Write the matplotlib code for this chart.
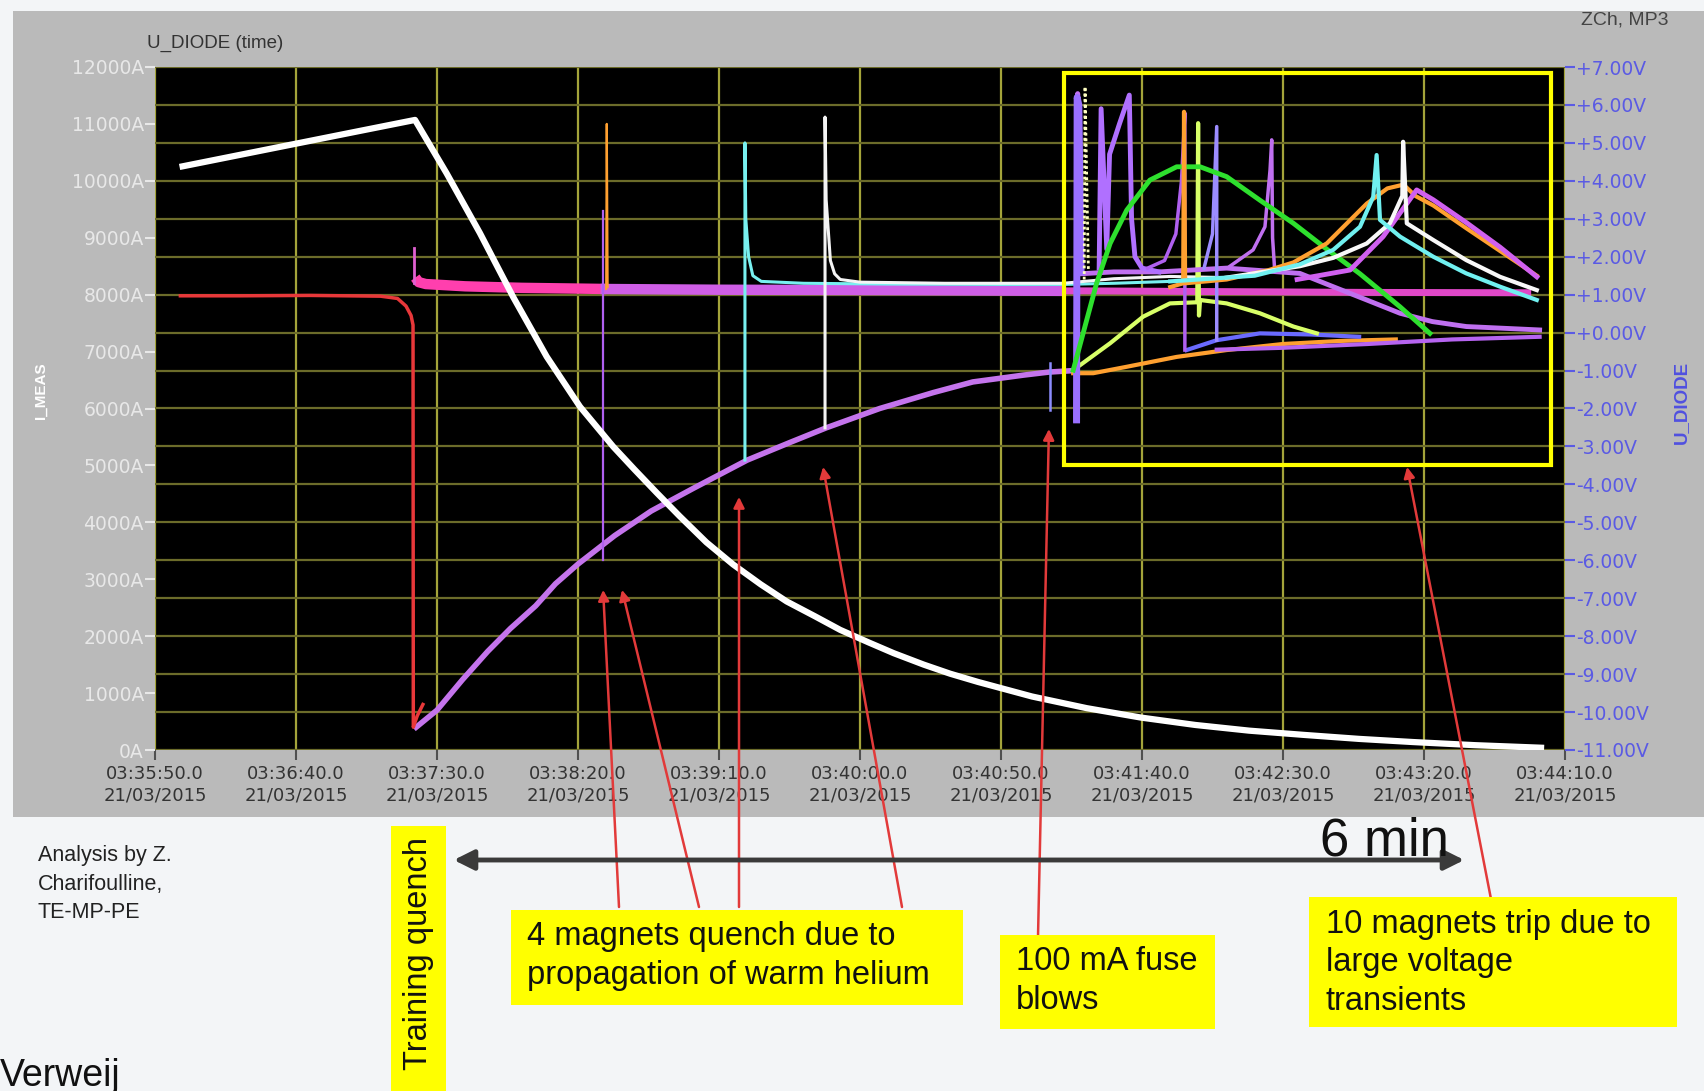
import matplotlib
matplotlib.use('Agg')
import matplotlib.pyplot as plt
from matplotlib.patches import Rectangle, FancyArrowPatch

W, H = 1704, 1091

# time axis: seconds after 03:35:50.0 (21/03/2015)
x_ticks = [0, 50, 100, 150, 200, 250, 300, 350, 400, 450, 500]
x_labels = ['03:35:50.0\n21/03/2015', '03:36:40.0\n21/03/2015', '03:37:30.0\n21/03/2015',
            '03:38:20.0\n21/03/2015', '03:39:10.0\n21/03/2015', '03:40:00.0\n21/03/2015',
            '03:40:50.0\n21/03/2015', '03:41:40.0\n21/03/2015', '03:42:30.0\n21/03/2015',
            '03:43:20.0\n21/03/2015', '03:44:10.0\n21/03/2015']
i_ticks = [0, 1000, 2000, 3000, 4000, 5000, 6000, 7000, 8000, 9000, 10000, 11000, 12000]
i_labels = ['0A', '1000A', '2000A', '3000A', '4000A', '5000A', '6000A', '7000A',
            '8000A', '9000A', '10000A', '11000A', '12000A']
u_ticks = [-11, -10, -9, -8, -7, -6, -5, -4, -3, -2, -1, 0, 1, 2, 3, 4, 5, 6, 7]
u_labels = ['-11.00V', '-10.00V', '-9.00V', '-8.00V', '-7.00V', '-6.00V', '-5.00V',
            '-4.00V', '-3.00V', '-2.00V', '-1.00V', '+0.00V', '+1.00V', '+2.00V',
            '+3.00V', '+4.00V', '+5.00V', '+6.00V', '+7.00V']

# I_MEAS (A)
imeas_t = [9.8, 30, 50, 70, 92.2, 103.4, 115.2, 127, 138.9, 150.7, 162.5, 170, 177.9,
           186, 195.5, 205, 214.8, 224, 234, 243, 253.3, 262, 272.6, 282, 291.9, 311,
           330.4, 349.6, 368.9, 388, 407.5, 427, 446, 468, 491.5]
imeas_a = [10255, 10455, 10653, 10851, 11070, 10133, 9084, 7960, 6911, 6032, 5329, 4930,
           4520, 4110, 3650, 3260, 2910, 2610, 2350, 2110, 1885, 1700, 1500, 1340, 1195,
           940, 735, 570, 440, 340, 265, 195, 140, 85, 40]

# U_DIODE traces (V)
red_t = [9, 30, 55, 80, 86, 89, 90.8, 91.5, 91.6, 91.8, 93, 95]
red_v = [0.97, 0.97, 0.98, 0.96, 0.9, 0.7, 0.45, 0.2, -10.4, -10.35, -10.1, -9.8]

pspike_t = [91.7, 91.7]
pspike_v = [1.3, 2.23]
pink_t = [92.3, 93.5, 96, 110, 130, 160]
pink_v = [1.45, 1.33, 1.28, 1.22, 1.18, 1.15]
band_t = [158, 200, 260, 322]
band_v = [1.15, 1.13, 1.12, 1.1]
bandbox_t = [322, 330, 380, 430, 488]
bandbox_v = [1.1, 1.1, 1.08, 1.06, 1.05]

rise_t = [92.6, 100, 109, 118, 126, 135, 142, 150, 163, 176, 191, 210, 225, 238, 257,
          276, 290, 300, 308, 317, 326]
rise_v = [-10.4, -9.95, -9.15, -8.4, -7.8, -7.2, -6.62, -6.1, -5.35, -4.7, -4.1, -3.36,
          -2.9, -2.51, -2.0, -1.58, -1.3, -1.2, -1.12, -1.04, -1.0]

q1_t = [158.7, 158.7]
q1_v = [-6.0, 3.2]
q2_t = [160.0, 160.2, 160.5]
q2_v = [1.15, 5.5, 1.2]
q3_t = [209.2, 209.2, 209.5, 210.5, 212, 215, 230, 260, 300, 322, 340, 360]
q3_v = [-3.36, 5.0, 3.0, 2.0, 1.5, 1.35, 1.3, 1.28, 1.27, 1.27, 1.3, 1.35]
q4_t = [237.6, 237.6, 238, 239.5, 241, 243, 250, 280, 322, 340, 360, 380]
q4_v = [-2.51, 5.68, 3.5, 1.9, 1.55, 1.4, 1.33, 1.3, 1.3, 1.42, 1.48, 1.45]
fuse_t = [317.4, 317.4]
fuse_v = [-0.8, -2.04]

green_t = [325.6, 333.9, 338.7, 344.6, 352.8, 362.3, 370.6, 380, 391.8, 403.7, 415.5,
           427.3, 441.5, 452.1]
green_v = [-0.99, 1.30, 2.35, 3.23, 4.02, 4.37, 4.37, 4.11, 3.49, 2.88, 2.2, 1.55, 0.68,
           -0.02]
lime_t = [325.6, 338.7, 350.4, 359.9, 369.6, 369.9, 370.2, 370.6, 380, 391.8, 403.7, 412]
lime_v = [-0.99, -0.28, 0.42, 0.77, 0.8, 5.52, 0.45, 0.86, 0.77, 0.51, 0.16, -0.02]
orlow_t = [325.6, 332.7, 344.6, 362.3, 380, 400, 420, 440]
orlow_v = [-1.07, -1.07, -0.9, -0.64, -0.46, -0.3, -0.22, -0.18]
orup_t = [360, 364.6, 364.9, 365.3, 380, 395, 403.7, 415.5, 429.7, 437, 442.7, 447,
          453.3, 465, 477, 490]
orup_v = [1.2, 1.3, 5.82, 1.3, 1.4, 1.65, 1.85, 2.35, 3.4, 3.8, 3.9, 3.6, 3.35, 2.75,
          2.15, 1.5]
vpeak_t = [405, 423.8, 435.5, 444, 447.4, 453.3, 465, 477, 490]
vpeak_v = [1.4, 1.65, 2.53, 3.41, 3.76, 3.5, 2.9, 2.25, 1.47]
wup_t = [380, 406, 417.8, 429.7, 437.9, 442.3, 442.6, 443.9, 453.3, 465, 477, 490]
wup_v = [1.45, 1.75, 1.97, 2.35, 2.88, 3.6, 5.03, 2.88, 2.44, 1.91, 1.47, 1.12]
cup_t = [360, 390, 406, 417.8, 427.3, 432, 433.2, 434.4, 441.5, 453.3, 465, 477, 490]
cup_v = [1.35, 1.5, 1.8, 2.18, 2.79, 3.58, 4.68, 2.97, 2.53, 2.0, 1.56, 1.21, 0.86]
vbase_t = [326.5, 327.2, 328, 340, 356, 380, 406, 417.8, 429.7, 441.5, 453, 465, 491]
vbase_v = [-2.3, 6.3, 1.55, 1.6, 1.6, 1.7, 1.56, 1.21, 0.86, 0.51, 0.29, 0.16, 0.07]
vclus_t = [326.8, 327.0, 327.6, 328.4]
vclus_v = [-2.3, 6.2, 6.0, 1.6]
blue_t = [365.8, 376.5, 391.8, 410, 427]
blue_v = [-0.46, -0.2, -0.02, -0.05, -0.11]
purp_t = [376.5, 400, 430, 460, 491]
purp_v = [-0.45, -0.4, -0.3, -0.18, -0.11]
s1_t = [329.5, 329.8, 331]
s1_v = [1.4, 6.48, 1.6]
hump_t = [334.8, 335.5, 337.5, 338.5, 342, 345.5, 346.3, 347.5, 350, 356]
hump_v = [1.7, 5.9, 2.2, 4.7, 5.5, 6.26, 3.0, 2.0, 1.7, 1.6]
s2_t = [352, 358, 362, 364, 365.2, 365.2]
s2_v = [1.7, 1.9, 2.6, 4.0, 5.79, -0.46]
s3_t = [372, 375, 376.5, 376.5]
s3_v = [1.7, 2.6, 5.43, -0.2]
s4_t = [381, 389.4, 393.6, 395.4, 396, 396.3, 397]
s4_v = [1.74, 2.18, 2.79, 4.28, 5.08, 2.5, 1.7]

plt.rcParams['font.family'] = ['Liberation Sans', 'DejaVu Sans']


def fx(px):
    return px / W


def fy(py):
    return 1 - py / H


fig = plt.figure(figsize=(W / 100, H / 100), dpi=100, facecolor='#f3f5f7')
fig.add_artist(Rectangle((fx(13), fy(817)), 1 - fx(13), (817 - 11) / H,
                         transform=fig.transFigure, fc='#bababa', ec='none', zorder=-5))

ax = fig.add_axes([fx(155), fy(750), (1565 - 155) / W, (750 - 67) / H])
ax.set_facecolor('black')
ax2 = ax.twinx()

ax.set_xlim(0, 500)
ax.set_ylim(0, 12000)
ax2.set_ylim(-11, 7)
ax.set_xticks(x_ticks)
ax.set_xticklabels(x_labels, linespacing=1.2)
ax.set_yticks(i_ticks)
ax.set_yticklabels(i_labels)
ax2.set_yticks(u_ticks)
ax2.set_yticklabels(u_labels)
for lab in ax.get_xticklabels() + ax.get_yticklabels() + ax2.get_yticklabels():
    lab.set_fontfamily('DejaVu Sans')

for a in (ax, ax2):
    for s in a.spines.values():
        s.set_visible(False)
ax.grid(axis='x', color='#a4a43a', lw=1.6)
ax2.grid(axis='y', color='#6c6c2a', lw=1.6)
ax.tick_params(axis='y', colors='#e8e8e8', labelsize=13.5, length=7, width=1.5, pad=1)
ax.tick_params(axis='x', colors='#505050', labelcolor='#333333', labelsize=13,
               length=7, width=1.5, pad=4)
ax2.tick_params(axis='y', colors='#5a5ae4', labelsize=13.5, length=7, width=1.5, pad=1)

# traces
ax2.plot(pink_t, pink_v, color='#ff3fae', lw=7.5, solid_capstyle='butt')
ax2.plot(pspike_t, pspike_v, color='#e060d0', lw=2)
ax2.plot(band_t, band_v, color='#cf5ee6', lw=7.5, solid_capstyle='butt')
ax2.plot(rise_t, rise_v, color='#c474ec', lw=4)
ax2.plot(red_t, red_v, color='#e8383a', lw=2.5)
ax2.plot(q1_t, q1_v, color='#b060f0', lw=1.6)
ax2.plot(q2_t, q2_v, color='#ffa030', lw=1.6)
ax2.plot(q3_t, q3_v, color='#78f0f0', lw=2.2)
ax2.plot(q4_t, q4_v, color='#f4f4f4', lw=2.2)
ax2.plot(fuse_t, fuse_v, color='#8c8cff', lw=1.8)

ax2.plot(bandbox_t, bandbox_v, color='#e048c8', lw=5, solid_capstyle='butt')
ax2.plot(orlow_t, orlow_v, color='#ffa030', lw=3)
ax2.plot(purp_t, purp_v, color='#b664f0', lw=3)
ax2.plot(blue_t, blue_v, color='#6a6aff', lw=3)
ax2.plot(lime_t, lime_v, color='#d8ff68', lw=3)
ax2.plot(vbase_t, vbase_v, color='#c070f0', lw=3.5)
ax2.plot(vclus_t, vclus_v, color='#9a70ff', lw=5)
ax2.plot(s1_t, s1_v, color='#ffffc0', lw=2, ls=(0, (1, 1)))
ax2.plot(hump_t, hump_v, color='#b070ff', lw=3.5)
ax2.plot(s2_t, s2_v, color='#b060f0', lw=2.5)
ax2.plot(s3_t, s3_v, color='#9c8cff', lw=2.5)
ax2.plot(s4_t, s4_v, color='#c070f0', lw=2.5)
ax2.plot(green_t, green_v, color='#2ee02e', lw=3.5)
ax2.plot(orup_t, orup_v, color='#ffa030', lw=3)
ax2.plot(vpeak_t, vpeak_v, color='#d060f0', lw=3.5)
ax2.plot(wup_t, wup_v, color='#f8f8f8', lw=3)
ax2.plot(cup_t, cup_v, color='#70f0f0', lw=3)

# current drawn through the left-axis scale, on top of the voltage traces
ax2.plot(imeas_t, imeas_a, color='white', lw=4.5, transform=ax.transData, zorder=5)
ax2.set_ylim(-11, 7)

ax2.add_patch(Rectangle((322.3, -3.49), 495.0 - 322.3, 6.84 + 3.49, fill=False,
                        ec='#ffff00', lw=3, zorder=6))

# axis captions
fig.text(fx(147), fy(43), 'U_DIODE (time)', fontsize=13.5, color='#333333', va='center')
fig.text(fx(1581), fy(20), 'ZCh, MP3', fontsize=14, color='#444444', va='center')
fig.text(fx(41), fy(391), 'I_MEAS', fontsize=11, color='white', weight='bold',
         rotation=90, ha='center', va='center')
fig.text(fx(1681), fy(402), 'U_DIODE', fontsize=13.5, color='#5050e0', weight='bold',
         rotation=90, ha='center', va='center')

# annotation boxes
boxes = [(391, 826, 446, 1091), (511, 910, 963, 1005), (1000, 935, 1215, 1029),
         (1309, 897, 1677, 1027)]
for x0, y0, x1, y1 in boxes:
    fig.add_artist(Rectangle((fx(x0), fy(y1)), (x1 - x0) / W, (y1 - y0) / H,
                             transform=fig.transFigure, fc='#ffff00', ec='none', zorder=1))

fig.text(fx(419), fy(953), 'Training quench', fontsize=23.5, rotation=90,
         ha='center', va='center', color='#111111', zorder=3)
fig.text(fx(527), fy(956), '4 magnets quench due to\npropagation of warm helium',
         fontsize=23.5, ha='left', va='center', linespacing=1.3, color='#111111', zorder=3)
fig.text(fx(1016), fy(981), '100 mA fuse\nblows', fontsize=23.5, ha='left', va='center',
         linespacing=1.3, color='#111111', zorder=3)
fig.text(fx(1326), fy(963), '10 magnets trip due to\nlarge voltage\ntransients',
         fontsize=23.5, ha='left', va='center', linespacing=1.3, color='#111111', zorder=3)
fig.text(fx(38), fy(845), 'Analysis by Z.\nCharifoulline,\nTE-MP-PE', fontsize=15.5,
         ha='left', va='top', linespacing=1.48, color='#222222')
fig.text(fx(0), fy(1086), 'Verweij', fontsize=27, ha='left', va='baseline',
         color='#111111')
fig.text(fx(1320), fy(856), '6 min', fontsize=38, ha='left', va='baseline',
         color='#111111', zorder=3)

fig.add_artist(FancyArrowPatch((fx(451), fy(860)), (fx(1467), fy(860)),
                               transform=fig.transFigure, arrowstyle='<|-|>',
                               mutation_scale=30, lw=3.5, color='#3a3a3a', zorder=2))

# red pointers: head in data coords, tail in figure pixels
pointers = [((158.9, -6.78), (619, 907)), ((165.6, -6.78), (699, 907)),
            ((207.1, -4.33), (739, 907)), ((236.9, -3.54), (902, 907)),
            ((317.0, -2.54), (1038, 937)), ((444.0, -3.54), (1491, 899))]
for head, tail in pointers:
    ax2.annotate('', xy=head, xycoords='data', xytext=(fx(tail[0]), fy(tail[1])),
                 textcoords='figure fraction', annotation_clip=False,
                 arrowprops=dict(arrowstyle='-|>', color='#e23a3a', lw=1.8,
                                 mutation_scale=16, shrinkA=0, shrinkB=0), zorder=7)

fig.savefig('out.png', dpi=100, facecolor=fig.get_facecolor())
